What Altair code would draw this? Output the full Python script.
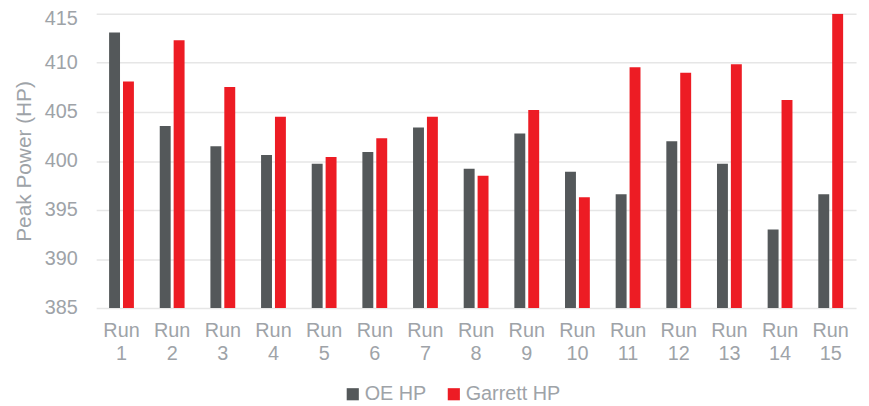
import altair as alt
import pandas as pd

runs = [f"Run {i}" for i in range(1, 16)]
oe_hp = [413.1, 403.55, 401.5, 400.6, 399.7, 400.9, 403.4, 399.2, 402.8, 398.9, 396.6, 402.0, 399.7, 393.0, 396.6]
garrett_hp = [408.1, 412.3, 407.55, 404.5, 400.4, 402.3, 404.5, 398.5, 405.2, 396.3, 409.55, 409.0, 409.85, 406.2, 415.0]
series = ["OE HP", "Garrett HP"]
colors = ["#54585a", "#ed1c24"]

rows = []
for r, a, b in zip(runs, oe_hp, garrett_hp):
    rows.append({"run": r, "series": series[0], "hp": a})
    rows.append({"run": r, "series": series[1], "hp": b})
df = pd.DataFrame(rows)

text_color = "#9ea3a8"
font = "Liberation Sans"

chart = alt.Chart(df).mark_bar(clip=True).encode(
    x=alt.X("run:N", sort=runs,
            scale=alt.Scale(paddingInner=0.51, paddingOuter=0.255),
            axis=alt.Axis(title=None, labelAngle=0, domain=False, ticks=False,
                          labelExpr="split(datum.label, ' ')",
                          labelFontSize=20, labelColor=text_color, labelFont=font,
                          labelPadding=13, labelLineHeight=23, labelBaseline="top")),
    xOffset=alt.XOffset("series:N", sort=series,
                        scale=alt.Scale(paddingInner=0.214, paddingOuter=0)),
    y=alt.Y("hp:Q", scale=alt.Scale(domain=[385, 415], nice=False, zero=False),
            axis=alt.Axis(title="Peak Power (HP)", values=[385, 390, 395, 400, 405, 410, 415],
                          domain=False, ticks=False, gridColor="#e6e6e6", gridWidth=1.5,
                          labelFontSize=20, labelColor=text_color, labelFont=font,
                          labelPadding=19,
                          labelOffset={"condition": {"test": "datum.value == 415", "value": 5}, "value": 0},
                          titleFontSize=21, titleColor=text_color, titleFont=font,
                          titleFontWeight="normal", titlePadding=10)),
    color=alt.Color("series:N", sort=series,
                    scale=alt.Scale(domain=series, range=colors),
                    legend=alt.Legend(title=None, orient="none", direction="horizontal",
                                      legendX=249, legendY=374,
                                      symbolType="square", symbolSize=150,
                                      symbolStrokeWidth=0, labelFontSize=20,
                                      labelColor=text_color, labelFont=font,
                                      labelOffset=2, columnPadding=17, padding=0)),
).properties(
    width=767, height=297,
    autosize=alt.AutoSizeParams(type="none"),
    padding={"left": 89, "top": 4, "right": 5, "bottom": 97},
).configure_view(stroke=None)

chart.save("out.html", embed_options={"renderer": "svg", "actions": False})
